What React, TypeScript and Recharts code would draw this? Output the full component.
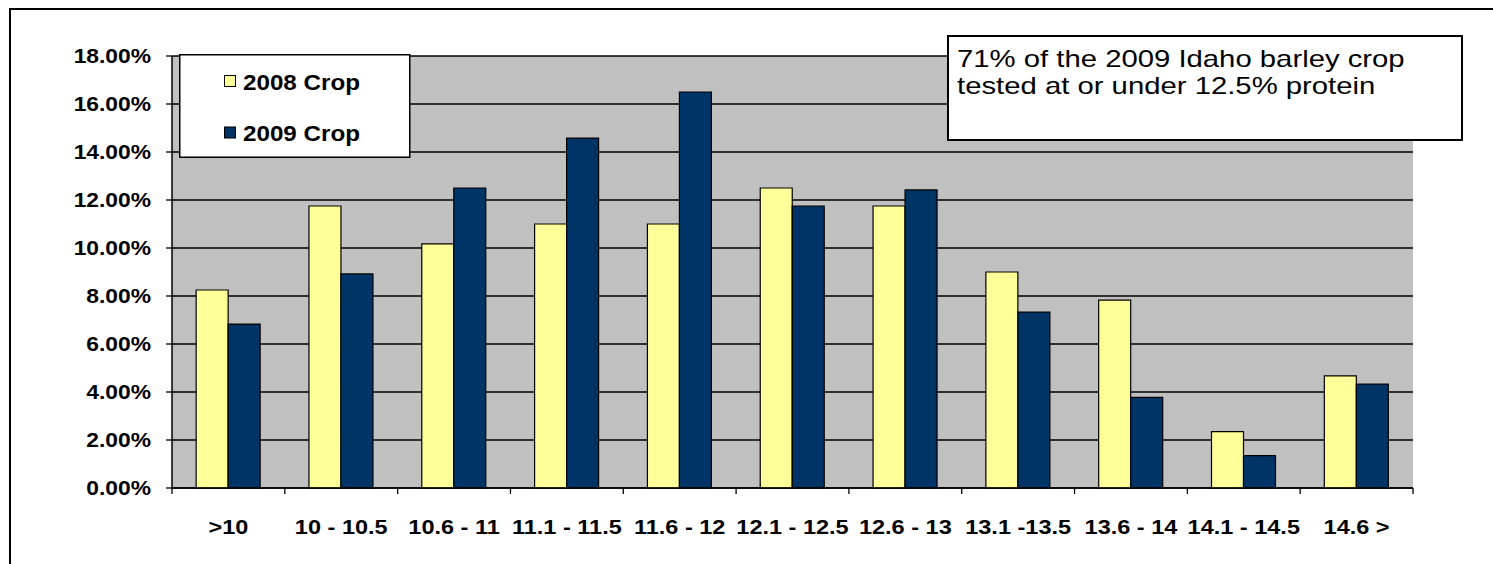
import React from "react";
import { BarChart, Bar, XAxis, YAxis, CartesianGrid, Legend } from "recharts";

const categories = [">10", "10 - 10.5", "10.6 - 11", "11.1 - 11.5", "11.6 - 12", "12.1 - 12.5", "12.6 - 13", "13.1 -13.5", "13.6 - 14", "14.1 - 14.5", "14.6 >"];
const crop2008 = [8.25, 11.75, 10.17, 11.0, 11.0, 12.5, 11.75, 9.0, 7.83, 2.35, 4.67];
const crop2009 = [6.83, 8.92, 12.5, 14.58, 16.5, 11.75, 12.42, 7.33, 3.78, 1.35, 4.33];
const yTicks = [0, 2, 4, 6, 8, 10, 12, 14, 16, 18];
const seriesNames = ["2008 Crop", "2009 Crop"];
const noteLines = ["71% of the 2009 Idaho barley crop", "tested at or under 12.5% protein"];

const data = categories.map((c, i) => ({ cat: c, a: crop2008[i], b: crop2009[i] }));

const FONT = '"Liberation Sans", Arial, Helvetica, sans-serif';

const YTick = (props: any) => {
  const { x, y, payload } = props;
  return (
    <text
      transform={`translate(${x},${y + 7}) scale(1.17,1)`}
      textAnchor="end"
      fontFamily={FONT}
      fontWeight="bold"
      fontSize={19.5}
      fill="#000"
    >
      {payload.value.toFixed(2) + "%"}
    </text>
  );
};

const XTick = (props: any) => {
  const { x, y, payload, index, width, visibleTicksCount } = props;
  const half = payload && typeof payload.offset === "number" && payload.offset > 0 ? payload.offset : width / visibleTicksCount / 2;
  const last = index === visibleTicksCount - 1;
  return (
    <g>
      <line x1={x - half} x2={x - half} y1={y - 6} y2={y} stroke="#000" strokeWidth={1.3} />
      {last && <line x1={x + half} x2={x + half} y1={y - 6} y2={y} stroke="#000" strokeWidth={1.3} />}
      <text
        transform={`translate(${x},${y + 40}) scale(1.12,1)`}
        textAnchor="middle"
        fontFamily={FONT}
        fontWeight="bold"
        fontSize={21}
        fill="#000"
      >
        {payload.value}
      </text>
    </g>
  );
};

const renderLegend = (props: any) => {
  const items = props.payload || [];
  return (
    <svg width={232} height={104} style={{ display: "block" }}>
      <rect x={0.75} y={0.75} width={230} height={102.5} fill="#fff" stroke="#000" strokeWidth={1.5} />
      {items.map((it: any, i: number) => {
        const row = 21 + i * 51.5;
        return (
          <g key={i}>
            <rect x={45.5} y={row + 0.5} width={11} height={11} fill={it.color} stroke="#000" strokeWidth={1} />
            <text
              transform={`translate(64,${row + 14.5}) scale(1.1,1)`}
              fontFamily={FONT}
              fontWeight="bold"
              fontSize={22}
              fill="#000"
            >
              {it.value}
            </text>
          </g>
        );
      })}
    </svg>
  );
};

export default function App() {
  return (
    <div style={{ position: "absolute", left: 0, top: 0, width: 1493, height: 564, overflow: "hidden", background: "#fff" }}>
      <div
        style={{
          position: "absolute",
          left: 9,
          top: 8,
          width: 1700,
          height: 800,
          borderLeft: "2px solid #000",
          borderTop: "2px solid #000",
        }}
      />
      <div style={{ position: "absolute", left: 0, top: 0 }}>
        <BarChart
          width={1493}
          height={564}
          data={data}
          margin={{ top: 56, right: 80, bottom: 16, left: 0 }}
          barCategoryGap="21.4%"
          barGap={0}
        >
          <CartesianGrid vertical={false} stroke="#000" strokeWidth={1.3} fill="#C0C0C0" fillOpacity={1} />
          <XAxis
            dataKey="cat"
            height={60}
            interval={0}
            tickLine={false}
            tickSize={6}
            tickMargin={0}
            axisLine={{ stroke: "#000", strokeWidth: 1.5 }}
            tick={<XTick />}
          />
          <YAxis
            domain={[0, 18]}
            ticks={yTicks}
            interval={0}
            width={172}
            tickSize={6}
            tickMargin={15}
            tickLine={{ stroke: "#000", strokeWidth: 1.3 }}
            axisLine={{ stroke: "#000", strokeWidth: 1.5 }}
            tick={<YTick />}
          />
          <YAxis
            yAxisId="right"
            orientation="right"
            domain={[0, 18]}
            width={0}
            tick={false}
            tickLine={false}
            axisLine={{ stroke: "#808080", strokeWidth: 1.5 }}
          />
          <Legend
            layout="vertical"
            align="center"
            verticalAlign="middle"
            content={renderLegend}
            wrapperStyle={{ position: "absolute", left: 179, top: 54, width: 232, height: 104 }}
          />
          <Bar dataKey="a" name={seriesNames[0]} fill="#FFFF99" stroke="#000" strokeWidth={1.2} isAnimationActive={false} />
          <Bar dataKey="b" name={seriesNames[1]} fill="#003366" stroke="#000" strokeWidth={1.2} isAnimationActive={false} />
        </BarChart>
      </div>
      <div
        style={{
          position: "absolute",
          left: 947,
          top: 35,
          width: 516,
          height: 106,
          boxSizing: "border-box",
          border: "2px solid #000",
          background: "#fff",
        }}
      >
        <div
          style={{
            position: "absolute",
            left: 8,
            top: 8,
            transform: "scaleX(1.22)",
            transformOrigin: "0 0",
            fontFamily: FONT,
            fontSize: 24,
            lineHeight: "27px",
            whiteSpace: "nowrap",
            color: "#000",
          }}
        >
          {noteLines[0]}
          <br />
          {noteLines[1]}
        </div>
      </div>
    </div>
  );
}
